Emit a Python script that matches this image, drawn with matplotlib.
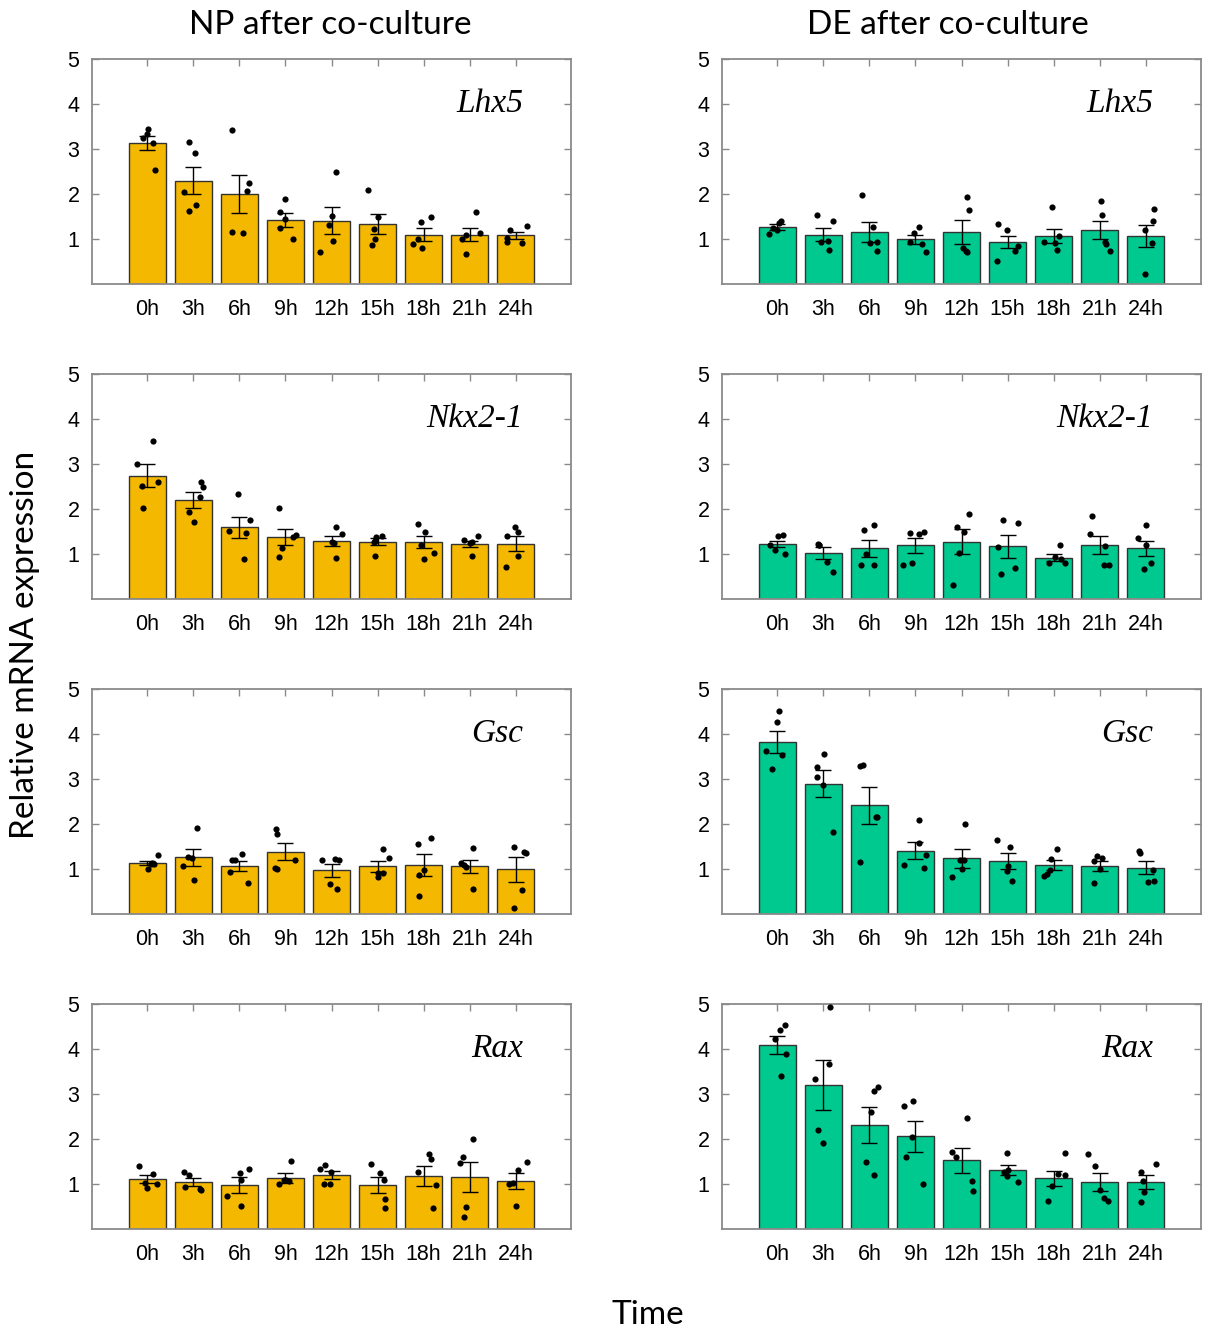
import numpy as np
import matplotlib
matplotlib.use("Agg")
import matplotlib.pyplot as plt

# ---------------- data ----------------
times = ["0h", "3h", "6h", "9h", "12h", "15h", "18h", "21h", "24h"]
genes = ["Lhx5", "Nkx2-1", "Gsc", "Rax"]
conditions = ["NP after co-culture", "DE after co-culture"]

# bar means
np_lhx5_mean = [3.13, 2.30, 2.00, 1.42, 1.41, 1.33, 1.10, 1.10, 1.08]
np_nkx_mean = [2.74, 2.20, 1.59, 1.38, 1.29, 1.27, 1.27, 1.23, 1.23]
np_gsc_mean = [1.13, 1.26, 1.07, 1.38, 0.97, 1.06, 1.09, 1.06, 0.99]
np_rax_mean = [1.11, 1.04, 0.98, 1.13, 1.21, 0.98, 1.18, 1.16, 1.07]
de_lhx5_mean = [1.27, 1.10, 1.16, 0.99, 1.16, 0.93, 1.07, 1.20, 1.07]
de_nkx_mean = [1.23, 1.02, 1.13, 1.19, 1.27, 1.17, 0.92, 1.19, 1.13]
de_gsc_mean = [3.82, 2.90, 2.42, 1.41, 1.24, 1.18, 1.09, 1.07, 1.03]
de_rax_mean = [4.10, 3.20, 2.31, 2.06, 1.53, 1.31, 1.13, 1.04, 1.04]

# standard errors
np_lhx5_sem = [0.16, 0.31, 0.42, 0.15, 0.30, 0.22, 0.14, 0.15, 0.08]
np_nkx_sem = [0.25, 0.17, 0.23, 0.18, 0.12, 0.08, 0.14, 0.07, 0.17]
np_gsc_sem = [0.05, 0.19, 0.11, 0.19, 0.15, 0.12, 0.24, 0.15, 0.28]
np_rax_sem = [0.09, 0.09, 0.17, 0.11, 0.09, 0.17, 0.22, 0.34, 0.17]
de_lhx5_sem = [0.06, 0.15, 0.22, 0.10, 0.26, 0.14, 0.16, 0.21, 0.25]
de_nkx_sem = [0.07, 0.13, 0.19, 0.16, 0.28, 0.25, 0.08, 0.20, 0.17]
de_gsc_sem = [0.24, 0.29, 0.41, 0.18, 0.21, 0.17, 0.12, 0.11, 0.15]
de_rax_sem = [0.20, 0.55, 0.40, 0.35, 0.28, 0.11, 0.17, 0.20, 0.16]

# individual replicate values (5 per time point)
np_lhx5_pts = [[3.44, 3.33, 3.24, 3.13, 2.53], [3.16, 2.91, 2.04, 1.75, 1.63],
               [3.43, 2.24, 2.06, 1.16, 1.13], [1.89, 1.59, 1.44, 1.24, 1.00],
               [2.50, 1.51, 1.32, 0.96, 0.72], [2.10, 1.48, 1.22, 1.01, 0.86],
               [1.50, 1.37, 0.99, 0.89, 0.79], [1.59, 1.13, 1.10, 1.00, 0.67],
               [1.30, 1.21, 1.02, 0.93, 0.92]]
np_nkx_pts = [[3.52, 3.01, 2.61, 2.52, 2.02], [2.61, 2.49, 2.27, 1.93, 1.72],
              [2.33, 1.76, 1.52, 1.47, 0.90], [2.02, 1.43, 1.38, 1.14, 0.94],
              [1.60, 1.44, 1.26, 1.24, 0.92], [1.41, 1.38, 1.30, 1.27, 0.95],
              [1.66, 1.50, 1.21, 1.02, 0.90], [1.41, 1.32, 1.25, 1.27, 0.95],
              [1.59, 1.49, 1.39, 0.95, 0.71]]
np_gsc_pts = [[1.31, 1.13, 1.11, 1.01, 1.12], [1.92, 1.27, 1.25, 1.06, 0.76],
              [1.33, 1.21, 1.19, 0.94, 0.70], [1.90, 1.78, 1.21, 1.03, 0.99],
              [1.21, 1.23, 1.20, 0.66, 0.55], [1.45, 1.25, 0.91, 0.91, 0.83],
              [1.68, 1.56, 0.98, 0.87, 0.39], [1.47, 1.13, 1.09, 1.04, 0.56],
              [1.50, 1.37, 1.36, 0.54, 0.14]]
np_rax_pts = [[1.41, 1.22, 1.02, 1.00, 0.92], [1.26, 1.21, 0.93, 0.89, 0.87],
              [1.34, 1.25, 1.10, 0.73, 0.52], [1.51, 1.09, 1.07, 0.99, 1.08],
              [1.43, 1.34, 1.26, 1.01, 1.00], [1.44, 1.24, 1.10, 0.67, 0.47],
              [1.66, 1.56, 1.26, 0.97, 0.47], [1.99, 1.61, 1.47, 0.50, 0.26],
              [1.50, 1.32, 1.03, 1.01, 0.51]]
de_lhx5_pts = [[1.41, 1.36, 1.24, 1.21, 1.12], [1.53, 1.40, 0.95, 0.93, 0.75],
               [1.98, 1.27, 0.91, 0.93, 0.73], [1.27, 1.13, 0.93, 0.90, 0.72],
               [1.94, 1.64, 0.79, 0.74, 0.71], [1.34, 1.19, 0.85, 0.73, 0.52],
               [1.71, 1.07, 0.94, 0.91, 0.75], [1.85, 1.53, 0.93, 0.89, 0.73],
               [1.66, 1.39, 1.19, 0.92, 0.23]]
de_nkx_pts = [[1.42, 1.41, 1.21, 1.10, 1.00], [1.22, 1.20, 1.20, 0.82, 0.59],
              [1.64, 1.53, 1.01, 0.76, 0.76], [1.46, 1.49, 1.44, 0.81, 0.76],
              [1.90, 1.61, 1.50, 1.03, 0.32], [1.75, 1.69, 1.16, 0.69, 0.55],
              [1.19, 0.94, 0.88, 0.81, 0.80], [1.84, 1.44, 1.18, 0.76, 0.76],
              [1.64, 1.36, 1.19, 0.81, 0.67]]
de_gsc_pts = [[4.52, 4.26, 3.63, 3.53, 3.22], [3.55, 3.26, 3.04, 2.87, 1.82],
              [3.30, 3.31, 2.16, 2.15, 1.16], [2.08, 1.58, 1.32, 1.08, 1.02],
              [2.01, 1.20, 1.19, 0.99, 0.83], [1.64, 1.50, 1.06, 0.96, 0.73],
              [1.45, 1.22, 0.97, 0.90, 0.85], [1.29, 1.24, 1.18, 0.99, 0.68],
              [1.39, 1.36, 0.97, 0.71, 0.73]]
de_rax_pts = [[4.54, 4.43, 4.22, 3.90, 3.41], [4.93, 3.67, 3.33, 2.21, 1.91],
              [3.16, 3.06, 2.59, 1.50, 1.19], [2.85, 2.74, 2.05, 1.61, 1.00],
              [2.46, 1.72, 1.60, 1.07, 0.84], [1.70, 1.32, 1.27, 1.18, 1.04],
              [1.69, 1.22, 1.19, 0.95, 0.62], [1.67, 1.39, 0.87, 0.70, 0.62],
              [1.44, 1.27, 1.06, 0.82, 0.61]]

# horizontal scatter of the replicate dots (in bar units)
np_lhx5_jit = [[0.01, -0.01, -0.09, 0.13, 0.16], [-0.10, 0.03, -0.20, 0.06, -0.09],
               [-0.17, 0.20, 0.17, -0.17, 0.08], [-0.01, -0.12, -0.01, -0.12, 0.17],
               [0.09, 0.01, -0.05, 0.04, -0.25], [-0.21, 0.01, -0.07, -0.05, -0.13],
               [0.17, -0.05, -0.13, -0.22, -0.04], [0.14, 0.22, -0.08, -0.16, -0.09],
               [0.24, -0.13, -0.18, -0.20, 0.14]]
np_nkx_jit = [[0.12, -0.22, 0.23, -0.11, -0.09], [0.16, 0.20, 0.14, -0.09, 0.01],
              [-0.03, 0.23, -0.22, 0.15, 0.10], [-0.15, 0.23, 0.16, -0.07, -0.13],
              [0.09, 0.22, 0.01, 0.06, 0.10], [0.09, -0.04, -0.05, -0.07, -0.05],
              [-0.13, 0.02, -0.06, 0.22, 0.00], [0.19, -0.12, 0.01, 0.04, 0.05],
              [-0.02, 0.04, -0.20, 0.04, -0.21]]
np_gsc_jit = [[0.23, 0.10, 0.14, 0.01, 0.08], [0.07, -0.12, -0.02, -0.22, 0.01],
              [0.05, -0.17, -0.09, -0.20, 0.19], [-0.20, -0.19, 0.21, -0.22, -0.19],
              [-0.20, 0.08, 0.16, -0.03, 0.13], [0.12, 0.25, 0.11, 0.00, 0.01],
              [0.15, -0.12, 0.00, -0.09, -0.11], [0.07, -0.19, -0.13, -0.09, 0.07],
              [-0.03, 0.19, 0.22, 0.14, -0.04]]
np_rax_jit = [[-0.17, 0.13, -0.06, 0.22, -0.01], [-0.21, -0.09, -0.18, 0.15, 0.17],
              [0.20, 0.02, 0.03, -0.26, 0.03], [0.13, 0.01, 0.07, -0.14, -0.04],
              [-0.14, -0.25, -0.02, -0.16, -0.04], [-0.14, 0.06, 0.15, 0.16, 0.17],
              [0.12, 0.15, -0.13, 0.26, 0.20], [0.08, -0.14, -0.20, -0.07, -0.12],
              [0.24, 0.06, -0.05, -0.14, 0.01]]
de_lhx5_jit = [[0.09, 0.04, -0.09, -0.01, -0.19], [-0.14, 0.21, 0.11, -0.06, 0.12],
               [-0.15, 0.07, 0.01, 0.17, 0.16], [0.07, -0.03, -0.12, 0.14, 0.22],
               [0.11, 0.17, 0.04, 0.09, 0.12], [-0.20, -0.01, 0.23, 0.17, -0.22],
               [-0.04, 0.12, -0.20, 0.02, 0.07], [0.03, 0.04, 0.12, 0.14, 0.23],
               [0.17, 0.15, -0.02, 0.14, -0.01]]
de_nkx_jit = [[0.12, 0.02, -0.16, -0.04, 0.17], [-0.12, -0.09, -0.09, 0.07, 0.22],
              [0.09, -0.11, -0.08, -0.18, 0.11], [-0.11, 0.18, 0.08, -0.07, -0.26],
              [0.16, -0.10, 0.06, -0.06, -0.18], [-0.09, 0.23, -0.20, 0.17, -0.14],
              [0.13, 0.04, 0.17, -0.09, 0.25], [-0.17, -0.20, 0.12, 0.10, 0.20],
              [0.01, -0.17, 0.00, 0.11, -0.03]]
de_gsc_jit = [[0.03, -0.01, -0.24, 0.11, -0.11], [0.01, -0.14, -0.14, -0.01, 0.22],
              [-0.20, -0.14, 0.14, 0.16, -0.21], [0.07, 0.08, 0.23, -0.24, 0.19],
              [0.08, -0.04, 0.05, 0.01, -0.20], [-0.22, 0.05, 0.01, -0.02, 0.10],
              [0.07, -0.06, -0.07, -0.15, -0.20], [-0.05, 0.06, -0.12, 0.01, -0.13],
              [-0.14, -0.12, 0.16, 0.06, 0.17]]
de_rax_jit = [[0.17, 0.05, -0.06, 0.20, 0.09], [0.14, 0.12, -0.19, -0.12, 0.00],
              [0.19, 0.09, 0.04, -0.07, 0.10], [-0.06, -0.25, -0.07, -0.20, 0.17],
              [0.12, -0.20, -0.13, 0.23, 0.25], [-0.01, 0.02, -0.07, -0.01, 0.23],
              [0.25, 0.09, 0.24, -0.04, -0.12], [-0.26, -0.11, 0.01, 0.09, 0.17],
              [0.22, -0.11, -0.06, -0.04, -0.10]]

ytick_vals = [1, 2, 3, 4, 5]

panels = [
    [(np_lhx5_mean, np_lhx5_sem, np_lhx5_pts, np_lhx5_jit),
     (de_lhx5_mean, de_lhx5_sem, de_lhx5_pts, de_lhx5_jit)],
    [(np_nkx_mean, np_nkx_sem, np_nkx_pts, np_nkx_jit),
     (de_nkx_mean, de_nkx_sem, de_nkx_pts, de_nkx_jit)],
    [(np_gsc_mean, np_gsc_sem, np_gsc_pts, np_gsc_jit),
     (de_gsc_mean, de_gsc_sem, de_gsc_pts, de_gsc_jit)],
    [(np_rax_mean, np_rax_sem, np_rax_pts, np_rax_jit),
     (de_rax_mean, de_rax_sem, de_rax_pts, de_rax_jit)],
]

# ---------------- style ----------------
bar_colors = ["#F5B800", "#00C98F"]
spine_color = "#8a8a8a"
W, H = 1206, 1331
fig = plt.figure(figsize=(W / 100, H / 100), dpi=100)

col_left = [92, 722]
ax_w = 479
row_top = [59, 374, 689, 1004]
ax_h = 225

tick_font = {"family": ["Liberation Sans", "DejaVu Sans"], "size": 15.5}
label_font = ["Lato", "DejaVu Sans"]

x = np.arange(len(times))
for r in range(4):
    for c in range(2):
        mean, sem, pts, jit = panels[r][c]
        left = col_left[c] / W
        bottom = 1 - (row_top[r] + ax_h) / H
        ax = fig.add_axes([left, bottom, ax_w / W, ax_h / H])
        ax.bar(x, mean, width=0.8, color=bar_colors[c], edgecolor="#333333",
               linewidth=1.0, zorder=2)
        ax.errorbar(x, mean, yerr=sem, fmt="none", ecolor="black",
                    elinewidth=1.0, capsize=5.5, capthick=1.0, zorder=3)
        for i in range(len(times)):
            xs = x[i] + np.array(jit[i])
            ax.scatter(xs, pts[i], s=20, color="black", zorder=4,
                       linewidths=0)
        ax.set_xlim(-1.2, 9.2)
        ax.set_ylim(0, 5)
        ax.set_xticks(x)
        ax.set_xticklabels(times, fontdict=tick_font)
        ax.set_yticks(ytick_vals)
        ax.set_yticklabels([str(v) for v in ytick_vals], fontdict=tick_font)
        ax.tick_params(axis="both", direction="in", length=5, width=1,
                       color=spine_color, top=True, right=True)
        ax.tick_params(axis="x", pad=11)
        ax.tick_params(axis="y", pad=9)
        for s in ax.spines.values():
            s.set_color(spine_color)
            s.set_linewidth(1.3)
        ax.text(0.9, 0.765, genes[r], transform=ax.transAxes, ha="right",
                va="baseline", fontsize=24, style="italic",
                family=["Liberation Serif", "DejaVu Serif"])

fig.text(330 / W, 1 - 25 / H, conditions[0], ha="center", va="center",
         fontsize=24, family=label_font)
fig.text(948 / W, 1 - 25 / H, conditions[1], ha="center", va="center",
         fontsize=24, family=label_font)
fig.text(25 / W, 1 - 645 / H, "Relative mRNA expression", ha="center",
         va="center", rotation=90, fontsize=24, family=label_font)
fig.text(648 / W, 1 - 1315 / H, "Time", ha="center", va="center",
         fontsize=24, family=label_font)

fig.savefig("out.png", dpi=100)
